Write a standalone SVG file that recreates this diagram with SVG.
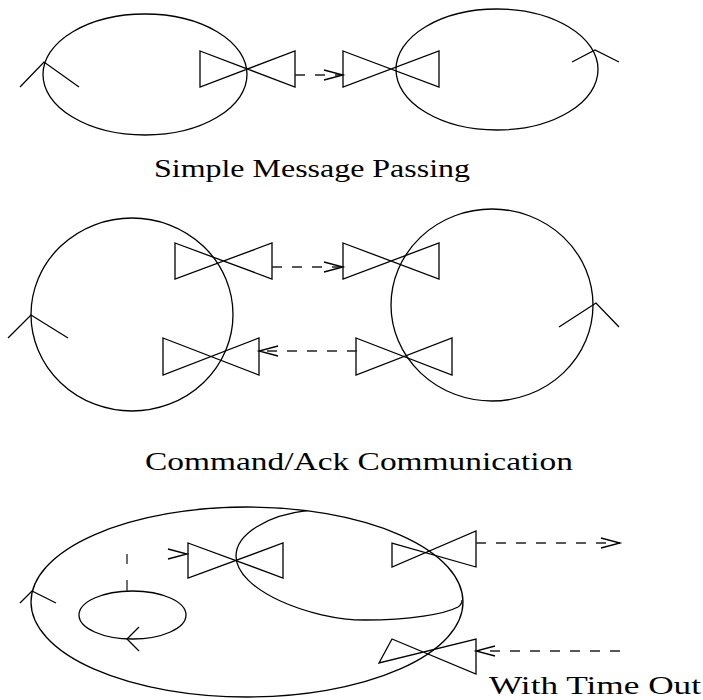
<svg xmlns="http://www.w3.org/2000/svg" width="703" height="700" viewBox="0 0 703 700">
<style>
.s{fill:none;stroke:#000;stroke-width:1.3;stroke-linejoin:miter}
.d{fill:none;stroke:#222;stroke-width:1.3;stroke-dasharray:10 10}
.t{font-family:"Liberation Serif","DejaVu Serif",serif;font-size:26px;fill:#000}
</style>
<defs>
<marker id="ah" markerUnits="userSpaceOnUse" markerWidth="24" markerHeight="14" viewBox="-21 -7 24 14" refX="0" refY="0" orient="auto" overflow="visible">
<path d="M-19,-5 L0,0 L-19,5" fill="none" stroke="#000" stroke-width="1.3" stroke-dasharray="none"/>
</marker>
</defs>
<rect width="703" height="700" fill="#fff"/>

<!-- Section 1 -->
<g id="s1-left">
<ellipse class="s" cx="145" cy="74.5" rx="102" ry="60.5"/>
<polyline class="s" points="20,87 44,62 79,87"/>
</g>
<g id="s1-valve1"><path class="s" d="M200,51 L295,87 L295,51 L200,87 Z"/></g>
<g id="s1-valve2"><path class="s" d="M343,51 L439,87 L439,51 L343,87 Z"/></g>
<g id="s1-right">
<ellipse class="s" cx="497" cy="69.5" rx="101" ry="60.5"/>
<polyline class="s" points="572,62 595,50 619,62"/>
</g>
<text class="t" x="154" y="177" textLength="316" lengthAdjust="spacingAndGlyphs">Simple Message Passing</text>

<!-- Section 2 -->
<g id="s2-left">
<ellipse class="s" cx="132" cy="314.5" rx="101" ry="96.5"/>
<polyline class="s" points="8,338 31,315 68,338"/>
</g>
<g id="s2-valveA"><path class="s" d="M175,243 L272,279 L272,243 L175,279 Z"/></g>
<g id="s2-valveB"><path class="s" d="M343,243 L439,279 L439,243 L343,279 Z"/></g>
<g id="s2-valveC"><path class="s" d="M163,338 L259,375 L259,338 L163,375 Z"/></g>
<g id="s2-valveD"><path class="s" d="M356,338 L452,375 L452,338 L356,375 Z"/></g>
<g id="s2-right">
<ellipse class="s" cx="492" cy="305" rx="101" ry="96"/>
<polyline class="s" points="559,327 596,303 619,327"/>
</g>
<text class="t" x="145" y="470" textLength="428" lengthAdjust="spacingAndGlyphs">Command/Ack Communication</text>

<!-- Section 3 -->
<g id="s3-outer">
<ellipse class="s" cx="247" cy="602" rx="216" ry="95"/>
<polyline class="s" points="20,603 32,591 56,603"/>
</g>
<g id="s3-inner">
<path class="s" d="M307,510.7 C268,515 236,534 236,556 C236,590 310,620 365,620 C410,620 445,614 458,607 C461,605 462,602 462,600"/>
</g>
<g id="s3-loop">
<ellipse class="s" cx="132.5" cy="615" rx="53.5" ry="24"/>
<polyline class="s" points="139,627 127,639 139,651"/>
</g>
<g id="s3-valveE"><path class="s" d="M188,543 L283,578 L283,543 L188,578 Z"/></g>
<g id="s3-valveF"><path class="s" d="M392,543 L476,567 L476,531 L392,567 Z"/></g>
<g id="s3-valveG"><path class="s" d="M392,639 L476,674 L476,639 L379,663 Z"/></g>
<text class="t" x="489" y="694" textLength="212" lengthAdjust="spacingAndGlyphs">With Time Out</text>

<!-- Connectors -->
<g id="connectors">
<path class="d" d="M295,75 L343,75" marker-end="url(#ah)"/>
<path class="d" d="M272,267 L343,267" marker-end="url(#ah)"/>
<path class="d" d="M357,351 L259,351" marker-end="url(#ah)"/>
<path class="d" d="M476,543 L620,543" marker-end="url(#ah)"/>
<path class="d" d="M620,651 L476,651" marker-end="url(#ah)"/>
<path class="d" style="stroke-dasharray:11 16 10 62" d="M127,591 L127,554 L187,554" marker-end="url(#ah)"/>
</g>
</svg>
